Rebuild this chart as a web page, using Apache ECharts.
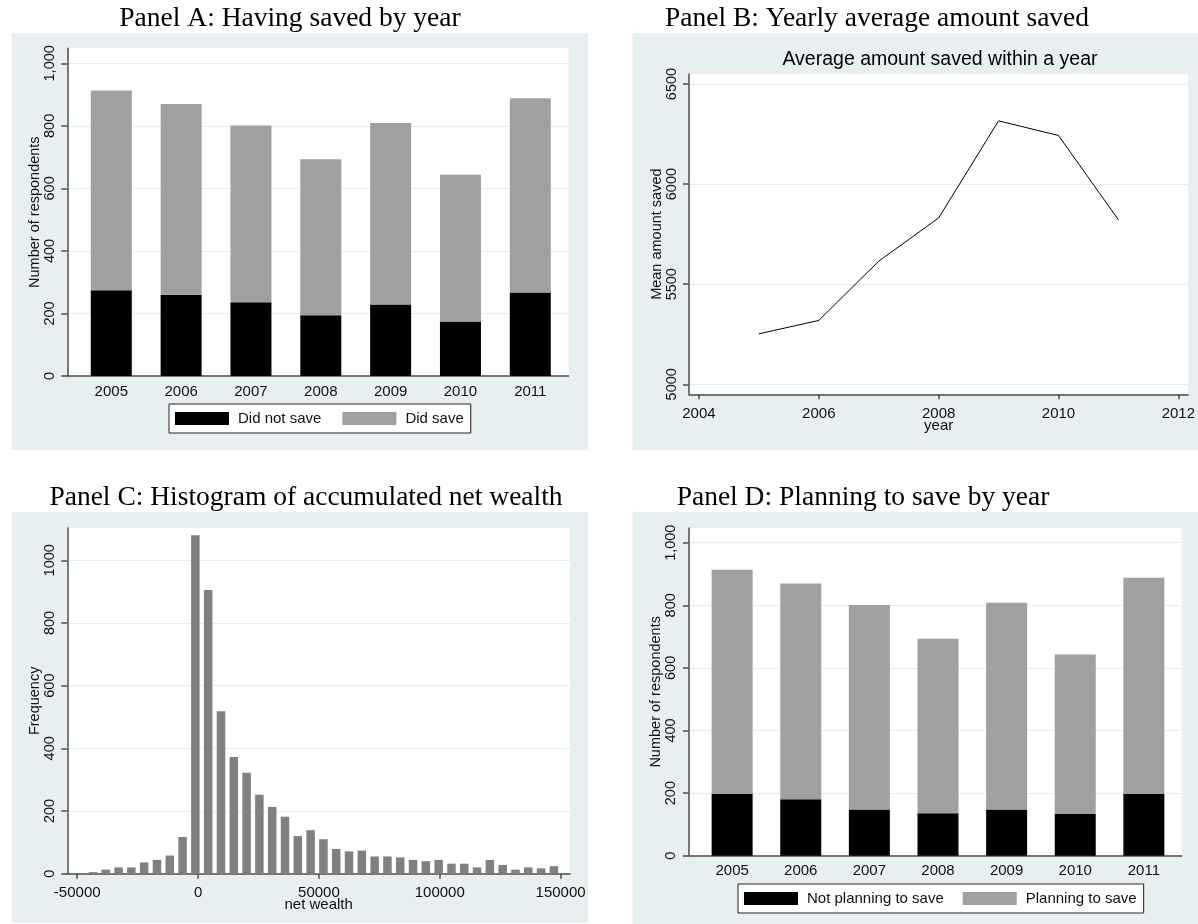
<!DOCTYPE html>
<html>
<head>
<meta charset="utf-8">
<script src="https://cdn.jsdelivr.net/npm/echarts@6/dist/echarts.min.js"></script>
<style>
  html, body { margin: 0; padding: 0; background: #fff; }
  #chart { width: 1198px; height: 924px; }
</style>
</head>
<body>
<div id="chart"></div>
<script>
// ---- Panel A / D: respondents per survey year ----
const years = [2005, 2006, 2007, 2008, 2009, 2010, 2011];
const didNotSave = [274, 260, 236, 194, 229, 174, 267];
const didSave = [639, 610, 565, 499, 580, 470, 621];
const notPlanning = [198, 180, 148, 136, 148, 133, 198];
const planning = [716, 690, 653, 557, 660, 510, 690];
const countTicks = [0, 200, 400, 600, 800, 1000];

// ---- Panel B: mean amount saved per year ----
const lineYears = [2005, 2006, 2007, 2008, 2009, 2010, 2011];
const meanSaved = [5252, 5319, 5615, 5831, 6316, 6243, 5822];
const yearTicks = [2004, 2006, 2008, 2010, 2012];
const amountTicks = [5000, 5500, 6000, 6500];

// ---- Panel C: histogram of net wealth (bin midpoints and counts) ----
const binMid = [-43490, -38192, -32894, -27596, -22298, -17000, -11702, -6404, -1106,
  4192, 9490, 14788, 20086, 25384, 30682, 35980, 41278, 46576, 51874, 57172, 62470,
  67768, 73066, 78364, 83662, 88960, 94258, 99556, 104854, 110152, 115450, 120748,
  126046, 131344, 136642, 141940, 147238];
const binCount = [5, 13, 20, 20, 36, 44, 58, 117, 1080, 905, 518, 372, 322, 252, 213,
  182, 120, 139, 110, 79, 71, 74, 55, 55, 52, 44, 40, 44, 32, 32, 20, 44, 28, 13, 20, 17, 24];
const wealthTicks = [-50000, 0, 50000, 100000, 150000];
const freqTicks = [0, 200, 400, 600, 800, 1000];

const SANS = '"Liberation Sans", Arial, sans-serif';
const SERIF = '"Liberation Serif", "DejaVu Serif", serif';
const AXIS = '#4d4d4d';
const GRIDLINE = '#e4edf0';
const PANEL_BG = '#e8eff1';
const TEXT = '#111';

const pairs = (xs, ys) => xs.map((x, i) => [x, ys[i]]);
// value first, year second: keeps the count as the stacked dimension
const stackRows = (xs, ys) => xs.map((x, i) => [ys[i], x]);
const plain = v => String(v);
const fmtThousands = v => v.toLocaleString('en-US');

function xAxisCfg(gridIndex, min, max, ticks, opts) {
  return Object.assign({
    type: 'value', gridIndex, min, max,
    axisLine: { show: true, onZero: false, lineStyle: { color: AXIS, width: 1.5 } },
    axisTick: { show: true, length: 5, customValues: ticks, lineStyle: { color: AXIS, width: 1.5 } },
    axisLabel: { customValues: ticks, margin: 12, fontSize: 15, color: TEXT, fontFamily: SANS, formatter: plain },
    splitLine: { show: false },
    nameMoveOverlap: false,
    nameTextStyle: { fontSize: 15, color: TEXT, fontFamily: SANS }
  }, opts || {});
}

function yAxisCfg(gridIndex, min, max, ticks, name, fmt) {
  return {
    type: 'value', gridIndex, min, max,
    axisLine: { show: true, onZero: false, lineStyle: { color: AXIS, width: 1.5 } },
    axisTick: { show: true, length: 6, customValues: ticks, lineStyle: { color: AXIS, width: 1.5 } },
    axisLabel: { customValues: ticks, rotate: 90, margin: 10, fontSize: 14.5, color: TEXT, fontFamily: SANS, formatter: fmt },
    splitLine: { show: true, lineStyle: { color: GRIDLINE, width: 1.2 } },
    name, nameLocation: 'middle', nameRotate: 90, nameGap: 25, nameMoveOverlap: false,
    nameTextStyle: { fontSize: 14.5, color: TEXT, fontFamily: SANS }
  };
}

function legendCfg(names, left, top, gap) {
  return {
    data: names, left, top, orient: 'horizontal', selectedMode: false,
    icon: 'rect', itemWidth: 54, itemHeight: 13, itemGap: gap,
    padding: [7, 7, 7, 6], borderColor: '#222', borderWidth: 1, backgroundColor: '#fff',
    textStyle: { fontSize: 15, lineHeight: 14, color: TEXT, fontFamily: SANS, padding: [0, 0, 0, 4] }
  };
}

function panelRect(x, y, w, h) {
  return { type: 'rect', z: -10, silent: true, shape: { x, y, width: w, height: h }, style: { fill: PANEL_BG } };
}

function label(text, x, y, font) {
  return {
    type: 'text', z: 10, silent: true, x, y,
    style: { text, font, fill: '#000', textAlign: 'center', textVerticalAlign: 'middle', align: 'center', verticalAlign: 'middle' }
  };
}

function stackedBar(name, stack, axisIndex, color, values) {
  return {
    name, type: 'bar', xAxisIndex: axisIndex, yAxisIndex: axisIndex, stack, barWidth: 41,
    encode: { x: 1, y: 0 }, itemStyle: { color }, data: stackRows(years, values)
  };
}

const barYearAxis = { axisTick: { show: false, customValues: years },
  axisLabel: { customValues: years, margin: 8, fontSize: 15, color: TEXT, fontFamily: SANS, formatter: plain } };

const option = {
  backgroundColor: '#fff',
  animation: false,
  graphic: [
    panelRect(11.5, 33, 576.5, 417),
    panelRect(632.5, 33, 566, 417),
    panelRect(11.5, 512, 576.5, 411),
    panelRect(632.5, 512, 566, 412),
    label('Panel A: Having saved by year', 290, 19, '27.5px ' + SERIF),
    label('Panel B: Yearly average amount saved', 877, 19, '27.5px ' + SERIF),
    label('Panel C: Histogram of accumulated net wealth', 306, 498, '27.5px ' + SERIF),
    label('Panel D: Planning to save by year', 863, 498, '27.5px ' + SERIF),
    label('Average amount saved within a year', 940, 60, '19.5px ' + SANS)
  ],
  grid: [
    { left: 67.3, top: 48.3, width: 501.4, height: 327.7, show: true, backgroundColor: '#fff', borderWidth: 0 },
    { left: 689, top: 74, width: 502.7, height: 320.3, show: true, backgroundColor: '#fff', borderWidth: 0 },
    { left: 67.3, top: 528, width: 502.7, height: 345.7, show: true, backgroundColor: '#fff', borderWidth: 0 },
    { left: 688.9, top: 528, width: 492.7, height: 327.7, show: true, backgroundColor: '#fff', borderWidth: 0 }
  ],
  xAxis: [
    xAxisCfg(0, 2004.37, 2011.55, years, barYearAxis),
    xAxisCfg(1, 2003.834, 2012.166, yearTicks, { name: 'year', nameLocation: 'middle', nameGap: 24 }),
    xAxisCfg(2, -54100, 153900, wealthTicks, { name: 'net wealth', nameLocation: 'middle', nameGap: 24 }),
    xAxisCfg(3, 2004.37, 2011.55, years, barYearAxis)
  ],
  yAxis: [
    yAxisCfg(0, 0, 1048, countTicks, 'Number of respondents', fmtThousands),
    yAxisCfg(1, 4950, 6550, amountTicks, 'Mean amount saved', plain),
    yAxisCfg(2, 0, 1103, freqTicks, 'Frequency', plain),
    yAxisCfg(3, 0, 1047, countTicks, 'Number of respondents', fmtThousands)
  ],
  legend: [
    legendCfg(['Did not save', 'Did save'], 169, 404, 21),
    legendCfg(['Not planning to save', 'Planning to save'], 738, 884, 19)
  ],
  series: [
    stackedBar('Did not save', 'saved', 0, '#000', didNotSave),
    stackedBar('Did save', 'saved', 0, '#a0a0a0', didSave),
    { name: 'Mean amount saved', type: 'line', xAxisIndex: 1, yAxisIndex: 1, symbol: 'none',
      lineStyle: { color: '#000', width: 1 }, data: pairs(lineYears, meanSaved) },
    { name: 'Frequency', type: 'bar', xAxisIndex: 2, yAxisIndex: 2, barWidth: 8.5,
      itemStyle: { color: '#808080' }, data: pairs(binMid, binCount) },
    stackedBar('Not planning to save', 'plan', 3, '#000', notPlanning),
    stackedBar('Planning to save', 'plan', 3, '#a0a0a0', planning)
  ]
};

const chart = echarts.init(document.getElementById('chart'), null, { renderer: 'canvas' });
chart.setOption(option);
</script>
</body>
</html>
